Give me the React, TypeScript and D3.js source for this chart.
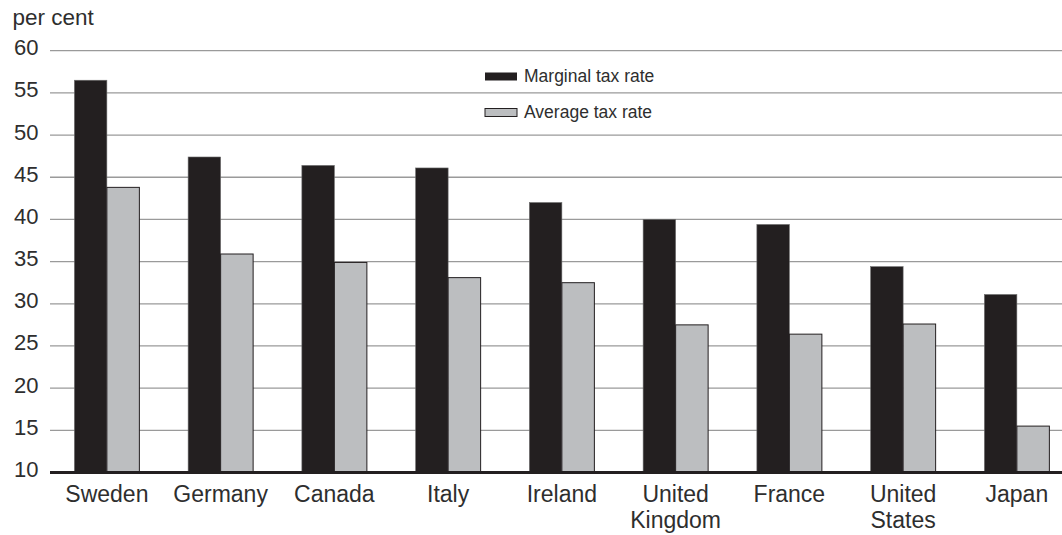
import React from "react";
import * as d3 from "d3";

const categories: string[][] = [
  ["Sweden"], ["Germany"], ["Canada"], ["Italy"], ["Ireland"],
  ["United", "Kingdom"], ["France"], ["United", "States"], ["Japan"],
];
const marginalRate = [56.5, 47.4, 46.4, 46.1, 42.0, 40.0, 39.4, 34.4, 31.1];
const averageRate = [43.8, 35.9, 34.9, 33.1, 32.5, 27.5, 26.4, 27.6, 15.5];
const yTicks = [10, 15, 20, 25, 30, 35, 40, 45, 50, 55, 60];
const seriesNames = ["Marginal tax rate", "Average tax rate"];

const W = 1062;
const H = 535;
const FONT = "'Liberation Sans', Arial, Helvetica, sans-serif";
const TEXT = "#2e2e2e";
const DARK = "#231f20";
const LIGHT = "#bcbec0";

export default function App() {
  const keys = categories.map((c) => c.join(" "));
  const x = d3.scaleBand<string>().domain(keys).range([50, 1073.75]).padding(0);
  const y = d3.scaleLinear().domain([10, 60]).range([472.5, 50.7]);
  const barW = 32.5;

  return (
    <svg
      width={W}
      height={H}
      style={{ position: "absolute", left: 0, top: 0, background: "#fff" }}
      fontFamily={FONT}
    >
      <text x={12.5} y={25} fontSize={22.5} fill={TEXT}>per cent</text>
      {yTicks.map((t) => (
        <g key={t}>
          {t !== 10 && (
            <line x1={50} x2={W} y1={y(t)} y2={y(t)} stroke="#9a9a9a" strokeWidth={1.3} />
          )}
          <text x={38.5} y={y(t) + 4.5} fontSize={22} textAnchor="end" fill={TEXT}>
            {t}
          </text>
        </g>
      ))}
      {keys.map((k, i) => {
        const cx = (x(k) as number) + x.bandwidth() / 2;
        return (
          <g key={k}>
            <rect
              x={cx - barW}
              y={y(marginalRate[i])}
              width={barW}
              height={y(10) - y(marginalRate[i])}
              fill={DARK}
              stroke="#6d6d6d"
              strokeWidth={0.6}
            />
            <rect
              x={cx}
              y={y(averageRate[i])}
              width={barW}
              height={y(10) - y(averageRate[i])}
              fill={LIGHT}
              stroke={DARK}
              strokeWidth={1}
            />
            {categories[i].map((line, j) => (
              <text
                key={j}
                x={cx}
                y={502 + j * 25.5}
                fontSize={23}
                textAnchor="middle"
                fill={TEXT}
              >
                {line}
              </text>
            ))}
          </g>
        );
      })}
      <line x1={50} x2={W} y1={y(10)} y2={y(10)} stroke={DARK} strokeWidth={3} />
      <g>
        <rect x={485} y={72.5} width={32} height={8} fill={DARK} />
        <text x={524} y={81.5} fontSize={17.5} fill={TEXT}>{seriesNames[0]}</text>
        <rect x={485} y={108.5} width={32} height={8} fill={LIGHT} stroke={DARK} strokeWidth={1} />
        <text x={524} y={117.5} fontSize={17.5} fill={TEXT}>{seriesNames[1]}</text>
      </g>
    </svg>
  );
}
